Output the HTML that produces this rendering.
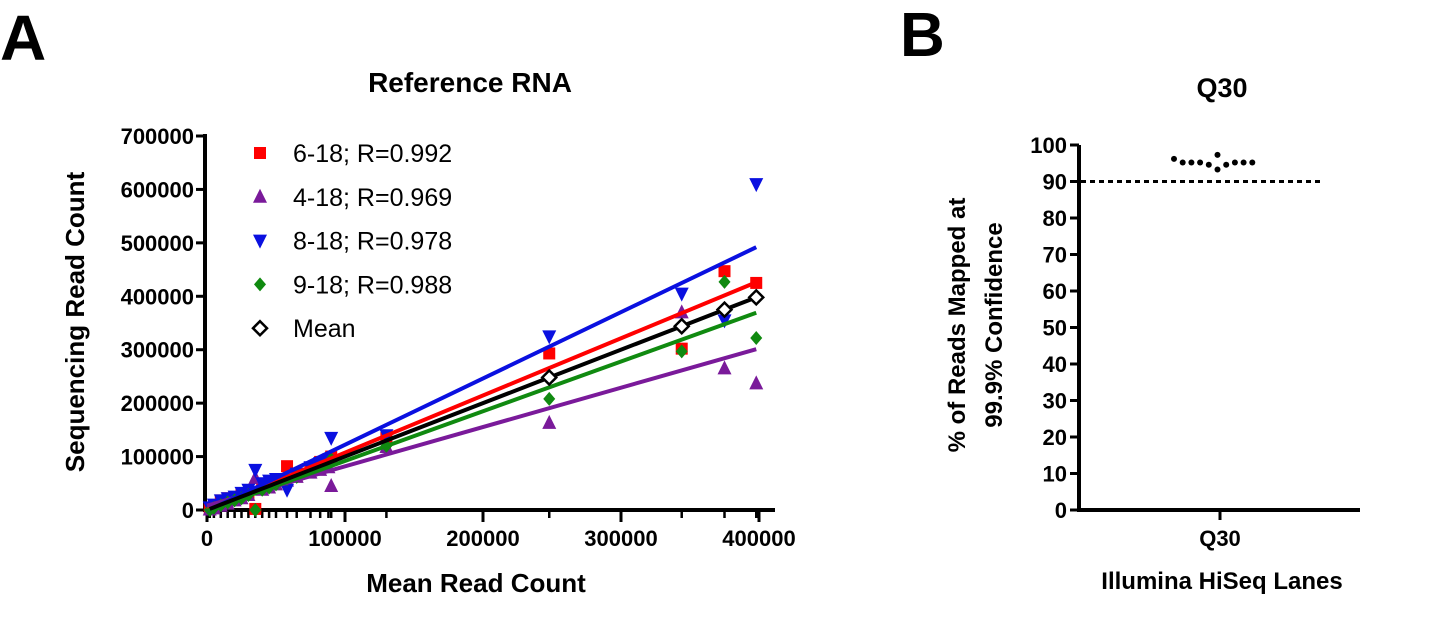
<!DOCTYPE html>
<html><head><meta charset="utf-8"><style>
body{margin:0;background:#fff;}
svg{display:block;font-family:"Liberation Sans",Arial,sans-serif;}
</style></head><body>
<svg id="fig" width="1440" height="632" viewBox="0 0 1440 632">
<text x="0" y="60" font-size="64" font-weight="bold">A</text>
<text x="900" y="56" font-size="62" font-weight="bold">B</text>
<text x="470" y="92" font-size="28" font-weight="bold" text-anchor="middle">Reference RNA</text>
<text transform="translate(84,322) rotate(-90)" font-size="26" font-weight="bold" text-anchor="middle">Sequencing Read Count</text>
<text x="476" y="592" font-size="26" font-weight="bold" text-anchor="middle">Mean Read Count</text>
<text x="1222" y="97" font-size="27" font-weight="bold" text-anchor="middle">Q30</text>
<text transform="translate(965,325) rotate(-90)" font-size="24" font-weight="bold" text-anchor="middle">% of Reads Mapped at</text>
<text transform="translate(1002,325) rotate(-90)" font-size="24" font-weight="bold" text-anchor="middle">99.9% Confidence</text>
<text x="1222" y="589" font-size="24" font-weight="bold" text-anchor="middle">Illumina HiSeq Lanes</text>
<g id="gA"></g>
<g id="gB"></g>
</svg>
<script>
const xMean=[2000,5000,10000,15000,20000,25000,30000,35000,40000,45000,50000,58000,65000,75000,82000,88000,90000,130000,248000,344000,375000,398000];
const sRed=[3000,8000,18000,22000,20000,28000,30000,2000,45000,50000,55000,82000,65000,78000,90000,95000,100000,135000,293000,302000,447000,425000];
const sPurple=[1000,3000,8000,12000,18000,22000,28000,60000,38000,42000,48000,55000,62000,70000,75000,80000,45000,118000,163000,370000,265000,237000];
const sBlue=[5000,10000,18000,22000,25000,32000,38000,75000,50000,55000,58000,38000,68000,80000,88000,92000,135000,140000,325000,405000,355000,610000];
const sGreen=[0,4000,9000,14000,18000,22000,28000,0,38000,42000,48000,58000,62000,72000,80000,85000,95000,120000,208000,297000,427000,322000];
const seriesNames=["6-18; R=0.992","4-18; R=0.969","8-18; R=0.978","9-18; R=0.988","Mean"];
const yTicksA=[0,100000,200000,300000,400000,500000,600000,700000];
const xTicksA=[0,100000,200000,300000,400000];
const q30Vals=[96.2,95.2,95.2,95.2,94.6,97.3,93.3,94.6,95.2,95.2,95.2];
const q30Threshold=90;
const yTicksB=[0,10,20,30,40,50,60,70,80,90,100];

const NS="http://www.w3.org/2000/svg";
function mk(p,tag,attrs){const e=document.createElementNS(NS,tag);for(const k in attrs)e.setAttribute(k,attrs[k]);p.appendChild(e);return e;}
const gA=document.getElementById('gA'),gB=document.getElementById('gB');
const X=v=>207+v*(552/400000), Y=v=>510-v*(374/700000);
let e=mk(gA,'line',{x1:205,y1:134,x2:205,y2:512,stroke:'#000','stroke-width':4});

e=mk(gA,'line',{x1:203,y1:510,x2:775,y2:510,stroke:'#000','stroke-width':4});

yTicksA.forEach(t=>{mk(gA,'line',{x1:196,y1:Y(t),x2:205,y2:Y(t),stroke:'#000','stroke-width':3});
 const tx=mk(gA,'text',{x:194,y:Y(t)+8,'font-size':22,'font-weight':'bold','text-anchor':'end'});tx.textContent=t;
 });
xTicksA.forEach(t=>{mk(gA,'line',{x1:X(t),y1:510,x2:X(t),y2:522,stroke:'#000','stroke-width':3});
 const tx=mk(gA,'text',{x:X(t),y:546,'font-size':22,'font-weight':'bold','text-anchor':'middle'});tx.textContent=t;
 });
xMean.forEach(v=>mk(gA,'line',{x1:X(v),y1:510,x2:X(v),y2:518,stroke:'#000','stroke-width':2.5}));
const cols=['#ff0000','#7a1a9a','#0a10e0','#108a10'];
const data=[sRed,sPurple,sBlue,sGreen];
const xmax=Math.max(...xMean);
function marker(p,i,cx,cy){
 if(i==0) return mk(p,'rect',{x:cx-6,y:cy-6,width:12,height:12,fill:cols[0]});
 if(i==1) return mk(p,'polygon',{points:`${cx},${cy-8} ${cx+7},${cy+6} ${cx-7},${cy+6}`,fill:cols[1]});
 if(i==2) return mk(p,'polygon',{points:`${cx-7},${cy-6} ${cx+7},${cy-6} ${cx},${cy+8}`,fill:cols[2]});
 if(i==3) return mk(p,'polygon',{points:`${cx},${cy-7} ${cx+6},${cy} ${cx},${cy+7} ${cx-6},${cy}`,fill:cols[3]});
 return mk(p,'polygon',{points:`${cx},${cy-7} ${cx+7},${cy} ${cx},${cy+7} ${cx-7},${cy}`,fill:'#fff',stroke:'#000','stroke-width':2.5});
}
data.forEach((s,i)=>{s.forEach((v,j)=>{const m=marker(gA,i,X(xMean[j]),Y(v));
 });});
// ordinary least-squares fit lines
data.forEach((s,i)=>{const n=s.length;let mx=0,my=0;s.forEach((v,j)=>{mx+=xMean[j];my+=v;});mx/=n;my/=n;
 let sxy=0,sxx=0;s.forEach((v,j)=>{sxy+=(xMean[j]-mx)*(v-my);sxx+=(xMean[j]-mx)**2;});const b=sxy/sxx,a=my-b*mx;
 const l=mk(gA,'line',{x1:X(0),y1:Y(a),x2:X(xmax),y2:Y(a+b*xmax),stroke:cols[i],'stroke-width':4});
 });
const pl=mk(gA,'polyline',{points:xMean.map(x=>X(x)+','+Y(x)).join(' '),fill:'none',stroke:'#000','stroke-width':4});

[248000,344000,375000,398000].forEach(x=>{const m=marker(gA,4,X(x),Y(x));});
const lg=mk(gA,'g',{});
seriesNames.forEach((n,i)=>{const y=153+i*43.8;const m=marker(lg,i,260,y);
 const t=mk(lg,'text',{x:293,y:y+9,'font-size':25});t.textContent=n;
 });
const YB=v=>510-v*3.65;
e=mk(gB,'line',{x1:1079,y1:YB(100),x2:1079,y2:512,stroke:'#000','stroke-width':4});

e=mk(gB,'line',{x1:1077,y1:510,x2:1360,y2:510,stroke:'#000','stroke-width':4});

yTicksB.forEach(t=>{mk(gB,'line',{x1:1070,y1:YB(t),x2:1079,y2:YB(t),stroke:'#000','stroke-width':3});
 const tx=mk(gB,'text',{x:1067,y:YB(t)+8,'font-size':22,'font-weight':'bold','text-anchor':'end'});tx.textContent=t;
 });
mk(gB,'line',{x1:1220,y1:510,x2:1220,y2:520,stroke:'#000','stroke-width':3});
const q=mk(gB,'text',{x:1220,y:546,'font-size':22,'font-weight':'bold','text-anchor':'middle'});q.textContent='Q30';

const th=mk(gB,'line',{x1:1081,y1:YB(q30Threshold),x2:1320,y2:YB(q30Threshold),stroke:'#000','stroke-width':3,'stroke-dasharray':'5,4'});

q30Vals.forEach((v,j)=>{const c=mk(gB,'circle',{cx:1174+j*8.7+(j>=6?-8.7:0),cy:YB(v),r:3,fill:'#000'});
 });
</script>
</body></html>
